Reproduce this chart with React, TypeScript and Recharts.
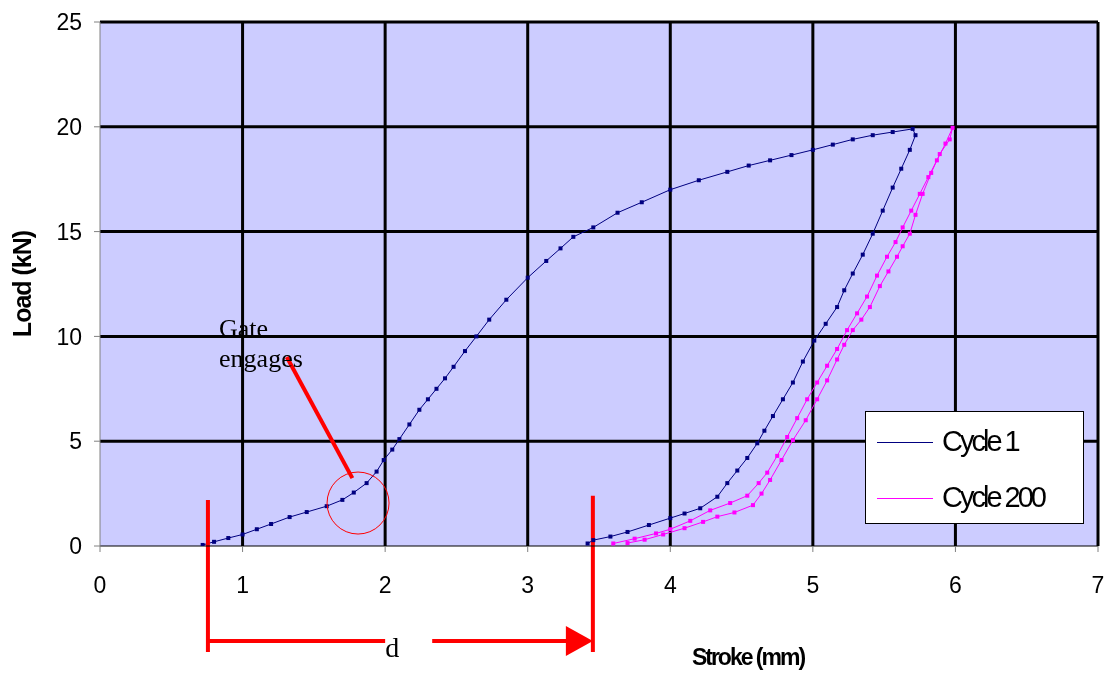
import React from "react";
import {
  LineChart,
  Line,
  XAxis,
  YAxis,
  CartesianGrid,
  ReferenceLine,
  ReferenceDot,
} from "recharts";

// Cycle 1: loading branch then unloading branch (stroke mm, load kN)
const cycle1Stroke = [
  0.72, 0.8, 0.9, 1.0, 1.1, 1.2, 1.33, 1.45, 1.59, 1.7, 1.78, 1.87, 1.94, 1.99, 2.05, 2.1, 2.17, 2.24, 2.3,
  2.36, 2.42, 2.48, 2.56, 2.64, 2.73, 2.85, 3.0, 3.13, 3.23, 3.32, 3.46, 3.63, 3.8, 4.0, 4.2, 4.4, 4.55,
  4.7, 4.85, 5.0, 5.14, 5.28, 5.42, 5.56, 5.7,
  5.72, 5.68, 5.62, 5.56, 5.49, 5.42, 5.35, 5.28, 5.22, 5.17, 5.09, 5.01, 4.93, 4.86, 4.79, 4.72, 4.66,
  4.61, 4.54, 4.47, 4.4, 4.33, 4.21, 4.1, 4.0, 3.85, 3.7, 3.58, 3.46, 3.42,
];
const cycle1Load = [
  0.05, 0.2, 0.38, 0.55, 0.8, 1.05, 1.38, 1.62, 1.9, 2.2, 2.55, 3.0, 3.55, 4.1, 4.6, 5.1, 5.8, 6.5, 7.0,
  7.5, 8.0, 8.55, 9.3, 10.0, 10.8, 11.75, 12.8, 13.6, 14.2, 14.75, 15.2, 15.9, 16.4, 17.0, 17.45, 17.85,
  18.15, 18.4, 18.65, 18.9, 19.15, 19.4, 19.6, 19.75, 19.9,
  19.6, 18.9, 18.0, 17.1, 16.0, 14.9, 13.9, 13.0, 12.2, 11.4, 10.6, 9.8, 8.8, 7.8, 7.0, 6.2, 5.5, 4.9,
  4.2, 3.6, 3.0, 2.35, 1.8, 1.55, 1.33, 1.0, 0.67, 0.45, 0.28, 0.12,
];

// Cycle 200
const cycle200Stroke = [
  3.6, 3.75, 3.9, 4.0, 4.14, 4.28, 4.42, 4.54, 4.62, 4.68, 4.75, 4.82, 4.89, 4.96, 5.03, 5.1, 5.17, 5.24,
  5.31, 5.38, 5.45, 5.52, 5.58, 5.63, 5.69, 5.75, 5.81, 5.87, 5.93, 5.98,
  5.96, 5.89, 5.83, 5.77, 5.72, 5.68, 5.63, 5.59, 5.53, 5.47, 5.4, 5.34, 5.28, 5.22, 5.17, 5.1, 5.03,
  4.95, 4.86, 4.78, 4.7, 4.64, 4.58, 4.45, 4.33, 4.23, 4.1, 3.95, 3.82, 3.7,
];
const cycle200Load = [
  0.12, 0.35, 0.6, 0.8, 1.2, 1.7, 2.05, 2.4, 3.0, 3.5, 4.3, 5.2, 6.1, 7.0, 7.8, 8.6, 9.4, 10.3, 11.1,
  11.9, 12.9, 13.8, 14.5, 15.2, 16.0, 16.8, 17.6, 18.4, 19.2, 19.95,
  19.4, 18.7, 17.8, 16.8, 15.8, 14.9, 14.3, 13.8, 13.1, 12.4, 11.4, 10.8, 10.3, 9.6, 8.9, 7.9, 7.0, 6.0,
  5.05, 4.1, 3.15, 2.5, 1.95, 1.6, 1.4, 1.15, 0.85, 0.55, 0.3, 0.14,
];

const xTicks = [0, 1, 2, 3, 4, 5, 6, 7];
const yTicks = [0, 5, 10, 15, 20, 25];

const seriesNames = ["Cycle 1", "Cycle 200"];
const seriesColors = ["#000080", "#FF00FF"];

const cycle1 = cycle1Stroke.map((x, i) => ({ x, y: cycle1Load[i] }));
const cycle200 = cycle200Stroke.map((x, i) => ({ x, y: cycle200Load[i] }));

const RED = "#FF0000";
const axisFont = "'Liberation Sans', Arial, sans-serif";
const serifFont = "'Liberation Serif', 'Times New Roman', serif";

function squareDot(color: string) {
  return (p: any) => (
    <rect key={`d-${p.index}`} x={p.cx - 2} y={p.cy - 2} width={4} height={4} fill={color} />
  );
}

function LegendBox() {
  return (
    <div
      style={{
        position: "absolute",
        left: 865,
        top: 411,
        width: 219,
        height: 113,
        boxSizing: "border-box",
        background: "#fff",
        border: "1px solid #000",
        fontFamily: axisFont,
      }}
    >
      {seriesNames.map((name, i) => (
        <div key={name}>
          <div
            style={{
              position: "absolute",
              left: 11,
              top: 30 + i * 56,
              width: 56,
              height: 1,
              background: seriesColors[i],
            }}
          />
          <div
            style={{
              position: "absolute",
              left: 76,
              top: 11 + i * 56,
              fontSize: 29,
              letterSpacing: -3,
              color: "#000",
              lineHeight: "36px",
              whiteSpace: "nowrap",
            }}
          >
            {name}
          </div>
        </div>
      ))}
    </div>
  );
}

export default function App() {
  // fixed to the window corner so the body margin and scrollbars play no part
  return (
    <div style={{ position: "fixed", left: 0, top: 0, width: 1109, height: 675 }}>
      <LineChart width={1109} height={675} margin={{ top: 22, right: 11, left: 8, bottom: 0 }}>
        <CartesianGrid
          fill="#CCCCFF"
          stroke="#000"
          strokeWidth={3}
          horizontalValues={[5, 10, 15, 20, 25]}
          verticalValues={[1, 2, 3, 4, 5, 6, 7]}
        />
        <XAxis
          type="number"
          dataKey="x"
          domain={[0, 7]}
          ticks={xTicks}
          allowDataOverflow
          height={129}
          axisLine={{ stroke: "#000" }}
          tickLine={{ stroke: "#808080" }}
          tickSize={6}
          tickMargin={25}
          tick={{ fontSize: 23, fill: "#000", fontFamily: axisFont }}
          label={{
            value: "Stroke (mm)",
            position: "insideBottom",
            offset: 10,
            dx: 149,
            style: { fontSize: 23, fontWeight: 700, letterSpacing: -2, fill: "#000", fontFamily: axisFont },
          }}
        />
        <YAxis
          type="number"
          dataKey="y"
          domain={[0, 25]}
          ticks={yTicks}
          allowDataOverflow
          width={92}
          axisLine={{ stroke: "#808080" }}
          tickLine={{ stroke: "#808080" }}
          tickSize={6}
          tickMargin={12}
          tick={{ fontSize: 23, fill: "#000", fontFamily: axisFont }}
          label={{
            value: "Load (kN)",
            angle: -90,
            position: "insideLeft",
            offset: 14,
            style: {
              textAnchor: "middle",
              fontSize: 25,
              fontWeight: 700,
              letterSpacing: -1,
              fill: "#000",
              fontFamily: axisFont,
            },
          }}
        />
        <Line
          data={cycle1}
          dataKey="y"
          name={seriesNames[0]}
          stroke={seriesColors[0]}
          strokeWidth={1}
          dot={squareDot(seriesColors[0])}
          isAnimationActive={false}
        />
        <Line
          data={cycle200}
          dataKey="y"
          name={seriesNames[1]}
          stroke={seriesColors[1]}
          strokeWidth={1}
          dot={squareDot(seriesColors[1])}
          isAnimationActive={false}
        />

        {/* "Gate engages" annotation */}
        <ReferenceLine
          segment={[{ x: 1.31, y: 9.02 }, { x: 1.77, y: 3.24 }]}
          stroke={RED}
          strokeWidth={4}
          ifOverflow="visible"
        />
        <ReferenceDot x={1.81} y={2.05} r={31} fill="none" stroke={RED} strokeWidth={1} ifOverflow="visible" />
        <ReferenceDot
          x={0.835}
          y={9.97}
          ifOverflow="visible"
          shape={(p: any) => (
            <text x={p.cx} y={p.cy} fontFamily={serifFont} fontSize={26} fill="#000">
              <tspan x={p.cx}>Gate</tspan>
              <tspan x={p.cx} dy={30}>engages</tspan>
            </text>
          )}
        />

        {/* "d" dimension below the axis */}
        <ReferenceLine
          segment={[{ x: 0.757, y: 2.2 }, { x: 0.757, y: -5.06 }]}
          stroke={RED}
          strokeWidth={4}
          ifOverflow="visible"
        />
        <ReferenceLine
          segment={[{ x: 3.457, y: 2.4 }, { x: 3.457, y: -5.06 }]}
          stroke={RED}
          strokeWidth={4}
          ifOverflow="visible"
        />
        <ReferenceLine
          segment={[{ x: 0.757, y: -4.53 }, { x: 2.0, y: -4.53 }]}
          stroke={RED}
          strokeWidth={4}
          ifOverflow="visible"
        />
        <ReferenceLine
          segment={[{ x: 2.33, y: -4.53 }, { x: 3.3, y: -4.53 }]}
          stroke={RED}
          strokeWidth={4}
          ifOverflow="visible"
        />
        <ReferenceDot
          x={3.457}
          y={-4.53}
          ifOverflow="visible"
          shape={(p: any) => (
            <polygon
              points={`${p.cx},${p.cy} ${p.cx - 27},${p.cy - 15} ${p.cx - 27},${p.cy + 15}`}
              fill={RED}
            />
          )}
        />
        <ReferenceDot
          x={2.05}
          y={-5.3}
          ifOverflow="visible"
          shape={(p: any) => (
            <text x={p.cx} y={p.cy} textAnchor="middle" fontFamily={serifFont} fontSize={28} fill="#000">
              d
            </text>
          )}
        />
      </LineChart>
      <LegendBox />
    </div>
  );
}
